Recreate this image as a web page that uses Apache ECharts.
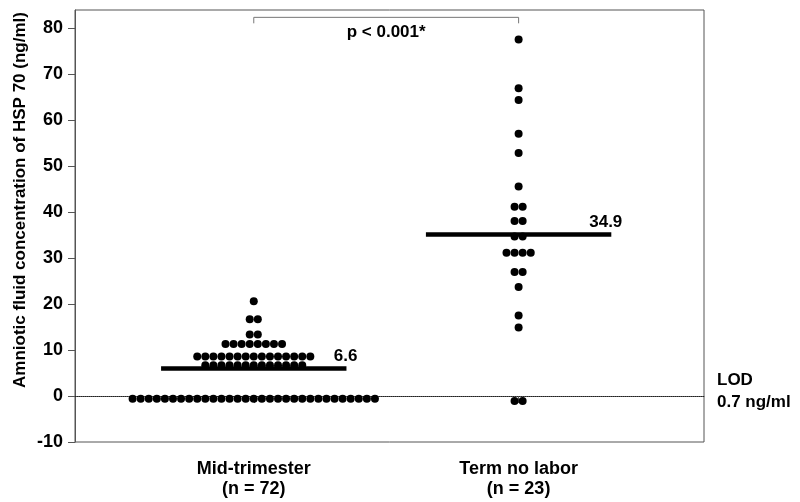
<!DOCTYPE html>
<html>
<head>
<meta charset="utf-8">
<script src="https://cdn.jsdelivr.net/npm/echarts@6/dist/echarts.min.js"></script>
<style>
  html, body { margin: 0; padding: 0; background: #fff; }
  #chart { width: 800px; height: 502px; }
</style>
</head>
<body>
<div id="chart"></div>
<script>
var groups = ['Mid-trimester', 'Term no labor'];
var groupSizes = ['(n = 72)', '(n = 23)'];

// amniotic fluid HSP 70, one value per patient (ng/ml)
var midValues = [
  20.6,
  16.7, 16.7,
  13.4, 13.4,
  11.3, 11.3, 11.3, 11.3, 11.3, 11.3, 11.3, 11.3,
  8.6, 8.6, 8.6, 8.6, 8.6, 8.6, 8.6, 8.6, 8.6, 8.6, 8.6, 8.6, 8.6, 8.6, 8.6,
  6.7, 6.7, 6.7, 6.7, 6.7, 6.7, 6.7, 6.7, 6.7, 6.7, 6.7, 6.7, 6.7,
  -0.6, -0.6, -0.6, -0.6, -0.6, -0.6, -0.6, -0.6, -0.6, -0.6,
  -0.6, -0.6, -0.6, -0.6, -0.6, -0.6, -0.6, -0.6, -0.6, -0.6,
  -0.6, -0.6, -0.6, -0.6, -0.6, -0.6, -0.6, -0.6, -0.6, -0.6, -0.6
];
var termValues = [
  77.6, 67.0, 64.4, 57.1, 52.9, 45.6,
  41.2, 41.2,
  38.1, 38.1,
  34.7, 34.7,
  31.2, 31.2, 31.2, 31.2,
  27.0, 27.0,
  23.7, 17.5, 14.9,
  -1.1, -1.1
];

var medianLevels = [6.0, 35.1];
var medianLabels = ['6.6', '34.9'];
var pLabel = 'p < 0.001*';
var lodLabels = ['LOD', '0.7 ng/ml'];
var yTicks = [-10, 0, 10, 20, 30, 40, 50, 60, 70, 80];

var FONT = '"Liberation Sans", Arial, sans-serif';
var dotGap = 0.0305;   // horizontal spacing between dots in the same row
var halfWidth = 0.35;  // half length of the median bars

// simple dot-plot layout: equal values share a row, centred on the group
function swarm(values, center) {
  var rows = {};
  var order = [];
  values.forEach(function (v) {
    if (!rows[v]) { rows[v] = []; order.push(v); }
    rows[v].push(v);
  });
  var out = [];
  order.forEach(function (k) {
    var n = rows[k].length;
    rows[k].forEach(function (v, i) {
      out.push([center + (i - (n - 1) / 2) * dotGap, v]);
    });
  });
  return out;
}

function medianLine(idx) {
  var c = idx + 1;
  return {
    silent: true,
    symbol: 'none',
    z: 6,
    lineStyle: { color: '#000', width: 4.5, type: 'solid', opacity: 1 },
    label: {
      show: true,
      position: 'insideEndTop',
      formatter: medianLabels[idx],
      color: '#000',
      fontSize: 17,
      fontWeight: 'bold',
      fontFamily: FONT,
      distance: 4,
      padding: [0, -15, 0, 0]
    },
    data: [[{ coord: [c - halfWidth, medianLevels[idx]] }, { coord: [c + halfWidth, medianLevels[idx]] }]]
  };
}

var chart = echarts.init(document.getElementById('chart'));

var option = {
  animation: false,
  backgroundColor: '#fff',
  grid: {
    left: 75, right: 96, top: 10, bottom: 60,
    show: true, borderColor: '#555', borderWidth: 1
  },
  xAxis: {
    type: 'value',
    min: 0.325,
    max: 2.7,
    splitLine: { show: false },
    axisLine: { show: true, lineStyle: { color: '#555', width: 1 } },
    axisTick: { show: true, length: 7, customValues: [1, 2], lineStyle: { color: '#555' } },
    axisLabel: {
      customValues: [1, 2],
      formatter: function (v) {
        var i = Math.round(v) - 1;
        return groups[i] + '\n' + groupSizes[i];
      },
      color: '#000',
      fontSize: 18,
      fontWeight: 'bold',
      fontFamily: FONT,
      lineHeight: 20,
      margin: 17
    }
  },
  yAxis: {
    type: 'value',
    min: -10,
    max: 84,
    splitLine: { show: false },
    axisLine: { show: true, lineStyle: { color: '#555', width: 1 } },
    axisTick: { show: true, length: 7, customValues: yTicks, lineStyle: { color: '#555' } },
    axisLabel: {
      customValues: yTicks,
      color: '#000',
      fontSize: 18,
      fontWeight: 'bold',
      fontFamily: FONT,
      margin: 12
    }
  },
  series: [
    {
      name: groups[0],
      type: 'scatter',
      symbol: 'circle',
      symbolSize: 8,
      itemStyle: { color: '#000', opacity: 1 },
      data: swarm(midValues, 1),
      markLine: medianLine(0)
    },
    {
      name: groups[1],
      type: 'scatter',
      symbol: 'circle',
      symbolSize: 8,
      itemStyle: { color: '#000', opacity: 1 },
      data: swarm(termValues, 2),
      markLine: medianLine(1)
    },
    {
      // limit of detection
      name: 'LOD',
      type: 'line',
      data: [],
      markLine: {
        silent: true,
        symbol: 'none',
        z: 1,
        label: { show: false },
        lineStyle: { color: '#222', width: 1, type: [1, 1], opacity: 1 },
        data: [{ yAxis: 0 }]
      }
    },
    {
      // significance bracket
      name: 'bracket',
      type: 'line',
      symbol: 'none',
      silent: true,
      lineStyle: { color: '#777', width: 1 },
      data: [[1, 81.1], [1, 82.4], [2, 82.4], [2, 81.1]]
    },
    {
      name: 'p',
      type: 'scatter',
      symbolSize: 0,
      silent: true,
      itemStyle: { opacity: 1 },
      label: {
        show: true,
        position: 'inside',
        formatter: pLabel,
        color: '#000',
        fontSize: 17,
        fontWeight: 'bold',
        fontFamily: FONT
      },
      data: [[1.5, 79.1]]
    }
  ],
  graphic: [
    {
      type: 'text',
      x: 20,
      y: 200,
      rotation: Math.PI / 2,
      style: {
        text: 'Amniotic fluid concentration of HSP 70 (ng/ml)',
        fill: '#000',
        font: 'bold 17px ' + FONT,
        align: 'center',
        verticalAlign: 'middle'
      }
    },
    {
      type: 'text',
      x: 717,
      y: 380,
      style: {
        text: lodLabels[0],
        fill: '#000',
        font: 'bold 17px ' + FONT,
        align: 'left',
        verticalAlign: 'middle'
      }
    },
    {
      type: 'text',
      x: 717,
      y: 402,
      style: {
        text: lodLabels[1],
        fill: '#000',
        font: 'bold 17px ' + FONT,
        align: 'left',
        verticalAlign: 'middle'
      }
    }
  ]
};

chart.setOption(option);
</script>
</body>
</html>
